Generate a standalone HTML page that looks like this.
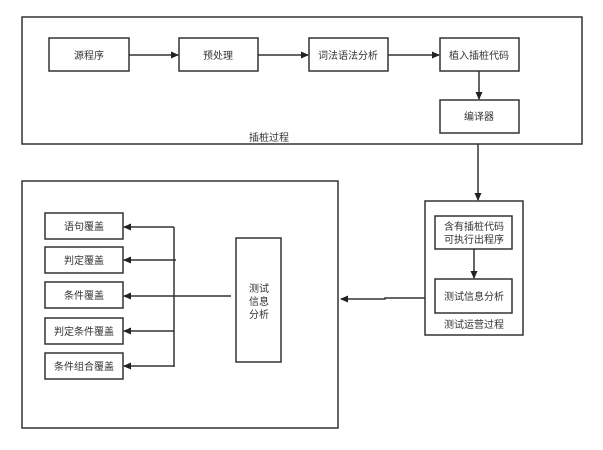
<!DOCTYPE html>
<html><head><meta charset="utf-8"><style>
body{margin:0;background:#fff;width:603px;height:445px;overflow:hidden}
svg text{font-family:"Liberation Sans","Noto Sans CJK SC",sans-serif;font-size:10px;fill:#333}
</style></head><body>
<svg width="603" height="445" xmlns="http://www.w3.org/2000/svg">
<defs><marker id="a" markerWidth="8" markerHeight="8" refX="7" refY="4" orient="auto" markerUnits="userSpaceOnUse"><path d="M0,0.5 L8,4 L0,7.5z" fill="#222"/></marker></defs>
<g fill="none" stroke="#333" stroke-width="1.5">
<rect x="22" y="17" width="560" height="127"/>
<rect x="49" y="38" width="80" height="33"/>
<rect x="179" y="38" width="79" height="33"/>
<rect x="309" y="38" width="79" height="33"/>
<rect x="440" y="38" width="79" height="33"/>
<rect x="440" y="100" width="79" height="33"/>
<rect x="22" y="181" width="316" height="247"/>
<rect x="425" y="201" width="98" height="134"/>
<rect x="435" y="216" width="77" height="33"/>
<rect x="435" y="279" width="77" height="34"/>
<rect x="236" y="238" width="45" height="124"/>
<rect x="45" y="213" width="78" height="26"/>
<rect x="45" y="247" width="78" height="26"/>
<rect x="45" y="282" width="78" height="26"/>
<rect x="45" y="318" width="78" height="26"/>
<rect x="45" y="353" width="78" height="26"/>
</g>
<g stroke="#333" stroke-width="1.5" fill="none">
<path d="M129 55H178" marker-end="url(#a)"/>
<path d="M258 55H308" marker-end="url(#a)"/>
<path d="M388 55H439" marker-end="url(#a)"/>
<path d="M479 71V99" marker-end="url(#a)"/>
<path d="M478 144V200" marker-end="url(#a)"/>
<path d="M474 249V278" marker-end="url(#a)"/>
<path d="M425 298H385V299H341" marker-end="url(#a)"/>
<path d="M231 296H124" marker-end="url(#a)"/>
<path d="M174 227V367"/>
<path d="M174 227H124" marker-end="url(#a)"/>
<path d="M176 260H124" marker-end="url(#a)"/>
<path d="M174 331H124" marker-end="url(#a)"/>
<path d="M174 366H124" marker-end="url(#a)"/>
</g>
<g text-anchor="middle">
<text x="89" y="59">源程序</text>
<text x="218" y="59">预处理</text>
<text x="348" y="59">词法语法分析</text>
<text x="479" y="59">植入插桩代码</text>
<text x="479" y="120">编译器</text>
<text x="269" y="141">插桩过程</text>
<text x="474" y="230">含有插桩代码</text>
<text x="474" y="243">可执行出程序</text>
<text x="474" y="300">测试信息分析</text>
<text x="474" y="328">测试运营过程</text>
<text x="259" y="292">测试</text>
<text x="259" y="305">信息</text>
<text x="259" y="318">分析</text>
<text x="84" y="230">语句覆盖</text>
<text x="84" y="264">判定覆盖</text>
<text x="84" y="299">条件覆盖</text>
<text x="84" y="335">判定条件覆盖</text>
<text x="84" y="370">条件组合覆盖</text>
</g>
</svg>
</body></html>
